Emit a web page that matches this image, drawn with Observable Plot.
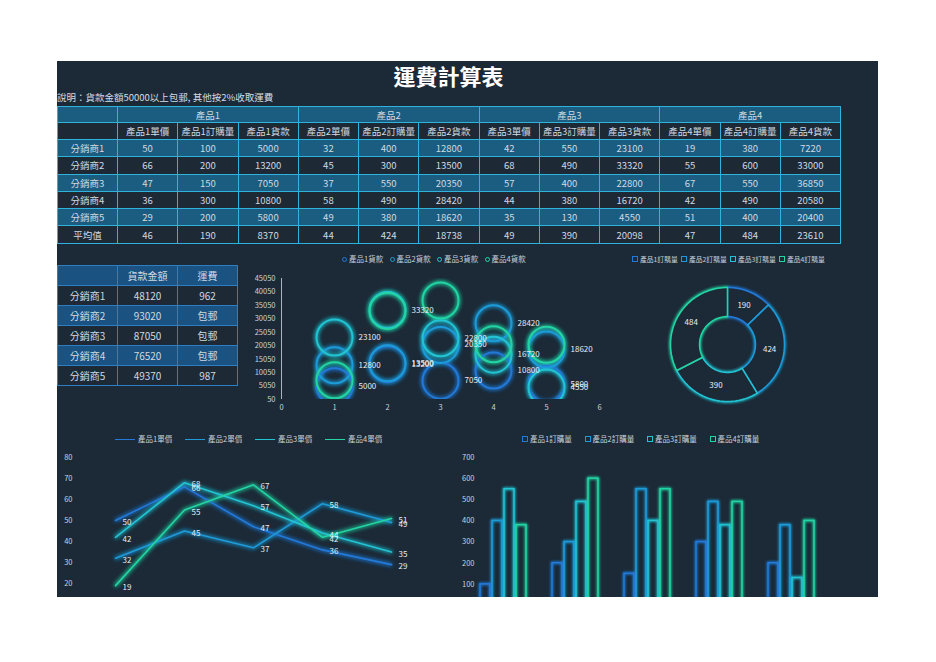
<!DOCTYPE html>
<html><head><meta charset="utf-8">
<script src="https://cdn.jsdelivr.net/npm/d3@7"></script>
<script src="https://cdn.jsdelivr.net/npm/@observablehq/plot@0.6"></script>
<style>
body{margin:0;background:#fff;width:936px;height:662px;position:relative;overflow:hidden;font-family:"Noto Sans CJK TC","Noto Sans",sans-serif;}
#panel{position:absolute;left:57px;top:61px;width:821px;height:536px;background:#1c2a37;}
.abs{position:absolute;overflow:hidden;}
#title{position:absolute;left:57px;width:783px;top:62px;line-height:26px;text-align:center;color:#fff;font-size:22px;font-weight:bold;}
#sub{position:absolute;left:57px;top:91px;line-height:12px;font-size:9.5px;color:#d3dce3;white-space:nowrap;}
table{border-collapse:collapse;table-layout:fixed;position:absolute;color:#d0d9e0;font-size:9.5px;text-align:center;}
td{padding:0;white-space:nowrap;overflow:hidden;line-height:12px;}
#t1{left:57px;top:106px;width:783px;}
#t1 td{border:1px solid #2fb2dc;}
#t2{left:57px;top:265px;width:180px;font-size:10px;}
#t2 td{border:1px solid #2c7fc2;height:19px;}
.b1{background:#1b5d81;} .d1{background:#1d2a36;}
.b2{background:#1a5282;} .d2{background:#1d2a36;}
.legend{position:absolute;display:flex;align-items:center;font-size:7.5px;color:#c9d3dc;white-space:nowrap;line-height:10px;}
.legend.small{font-size:6.8px;}
.item{display:flex;align-items:center;}
.sw{display:inline-block;box-sizing:border-box;margin-right:2px;}
.sw.line{width:20px;height:0;border-top:1.5px solid;margin-right:3px;}
.sw.circle{width:5px;height:5px;border:1px solid;border-radius:50%;}
.sw.square{width:6px;height:6px;border:1px solid;}
</style></head>
<body>
<div id="panel"></div>
<div id="title">運費計算表</div>
<div id="sub">說明：貨款金額50000以上包郵, 其他按2%收取運費</div>
<table id="t1"></table>
<table id="t2"></table>
<div id="bubble" class="abs" style="left:240px;top:265px;width:380px;height:160px;"></div>
<div id="donut" class="abs" style="left:620px;top:265px;width:250px;height:145px;"></div>
<div id="lines" class="abs" style="left:57px;top:445px;width:380px;height:152px;"></div>
<div id="bars" class="abs" style="left:437px;top:445px;width:441px;height:152px;"></div>
<script>
const distributors = ["分銷商1","分銷商2","分銷商3","分銷商4","分銷商5"];
const products = ["產品1","產品2","產品3","產品4"];
const p1Price = [50,66,47,36,29];
const p1Qty = [100,200,150,300,200];
const p1Amount = [5000,13200,7050,10800,5800];
const p2Price = [32,45,37,58,49];
const p2Qty = [400,300,550,490,380];
const p2Amount = [12800,13500,20350,28420,18620];
const p3Price = [42,68,57,44,35];
const p3Qty = [550,490,400,380,130];
const p3Amount = [23100,33320,22800,16720,4550];
const p4Price = [19,55,67,42,51];
const p4Qty = [380,600,550,490,400];
const p4Amount = [7220,33000,36850,20580,20400];
const avgPrice = [46,44,49,47];
const avgQty = [190,424,390,484];
const avgAmount = [8370,18738,20098,23610];
const totalAmount = [48120,93020,87050,76520,49370];
const freight = ["962","包郵","包郵","包郵","987"];
const avgLabel = "平均值";
const summaryHeaders = ["","貨款金額","運費"];
const bubbleTicksX = [0,1,2,3,4,5,6];
const bubbleTicksY = [50,5050,10050,15050,20050,25050,30050,35050,40050,45050];
const lineTicksY = [20,30,40,50,60,70,80];
const barTicksY = [100,200,300,400,500,600,700];

const prices = [p1Price,p2Price,p3Price,p4Price];
const qtys = [p1Qty,p2Qty,p3Qty,p4Qty];
const amounts = [p1Amount,p2Amount,p3Amount,p4Amount];
const seriesColors = ["#2379d8","#1f9bd9","#22c4d4","#24d4a3"];
const panelBg = "#1c2a37";
const fontFam = '"Noto Sans CJK TC","Noto Sans",sans-serif';

// ---------- table 1 ----------
(function(){
  const t = d3.select("#t1");
  const cg = t.append("colgroup");
  cg.append("col").style("width","60px");
  for (let i=0;i<12;i++) cg.append("col").style("width","60.25px");
  const h1 = t.append("tr").attr("class","b1").style("height","16px");
  h1.append("td");
  products.forEach(p=>h1.append("td").attr("colspan",3).text(p));
  const h2 = t.append("tr").attr("class","d1").style("height","17px");
  h2.append("td");
  products.forEach(p=>{["單價","訂購量","貨款"].forEach(s=>h2.append("td").text(p+s));});
  distributors.forEach((d,i)=>{
    const tr = t.append("tr").attr("class", i%2===0?"b1":"d1").style("height","17.3px");
    tr.append("td").text(d);
    products.forEach((p,j)=>{
      tr.append("td").text(prices[j][i]);
      tr.append("td").text(qtys[j][i]);
      tr.append("td").text(amounts[j][i]);
    });
  });
  const av = t.append("tr").attr("class","d1").style("height","17.3px");
  av.append("td").text(avgLabel);
  products.forEach((p,j)=>{
    av.append("td").text(avgPrice[j]);
    av.append("td").text(avgQty[j]);
    av.append("td").text(avgAmount[j]);
  });
})();

// ---------- table 2 ----------
(function(){
  const t = d3.select("#t2");
  const cg = t.append("colgroup");
  for (let i=0;i<3;i++) cg.append("col").style("width","60px");
  const h = t.append("tr").attr("class","b2");
  summaryHeaders.forEach(s=>h.append("td").text(s));
  distributors.forEach((d,i)=>{
    const tr = t.append("tr").attr("class", i%2===0?"d2":"b2");
    tr.append("td").text(d);
    tr.append("td").text(totalAmount[i]);
    tr.append("td").text(freight[i]);
  });
})();

// ---------- helpers ----------
function addGlow(svg, id, std, selector){
  const s = d3.select(svg);
  const defs = s.insert("defs", ":first-child");
  const f = defs.append("filter").attr("id", id)
    .attr("x","-50%").attr("y","-50%").attr("width","200%").attr("height","200%");
  f.append("feGaussianBlur").attr("in","SourceGraphic").attr("stdDeviation",std).attr("result","b");
  const m = f.append("feMerge");
  m.append("feMergeNode").attr("in","b");
  m.append("feMergeNode").attr("in","b");
  m.append("feMergeNode").attr("in","SourceGraphic");
  s.selectAll(selector).attr("filter", `url(#${id})`);
}
function legend(left, top, step, labels, kind, extraClass){
  const div = document.createElement("div");
  div.className = "legend" + (extraClass ? " "+extraClass : "");
  div.style.left = left+"px"; div.style.top = top+"px";
  labels.forEach((lab,i)=>{
    const it = document.createElement("span");
    it.className = "item"; it.style.width = step+"px";
    const sw = document.createElement("span");
    sw.className = "sw "+kind; sw.style.borderColor = seriesColors[i];
    it.appendChild(sw);
    it.appendChild(document.createTextNode(lab));
    div.appendChild(it);
  });
  document.body.appendChild(div);
}
const baseStyle = {background:"transparent", color:"#c9d3dc", fontSize:"7.5px", fontFamily:fontFam, overflow:"visible"};

// ---------- bubble chart ----------
const amountRows = products.flatMap((p,j)=>distributors.map((d,i)=>({product:p, idx:i+1, value:amounts[j][i]})));
legend(342, 254, 47.5, products.map(p=>p+"貨款"), "circle");
const bubble = Plot.plot({
  width:380, height:160, marginTop:13, marginBottom:26, marginLeft:41, marginRight:21,
  style: baseStyle,
  x:{domain:[0,6], ticks:bubbleTicksX, tickSize:0, tickPadding:5, label:null, tickFormat:"d"},
  y:{domain:[50,45050], ticks:bubbleTicksY, tickSize:0, tickPadding:6, label:null, tickFormat:"d"},
  color:{domain:products, range:seriesColors},
  marks:[
    Plot.ruleX([0], {y1:50, y2:45050, stroke:"#a9b4be", strokeWidth:1}),
    Plot.dot(amountRows, {x:"idx", y:"value", r:18, stroke:"product", strokeWidth:2, fill:"none", clip:true}),
    Plot.text(amountRows.filter(d=>d.product!=="產品4"), {x:"idx", y:"value", text:d=>String(d.value), dx:24, textAnchor:"start", fill:"#e6edf2", fontSize:8})
  ]
});
document.getElementById("bubble").appendChild(bubble);
addGlow(bubble, "gb", 2.2, 'g[aria-label="dot"]');

// ---------- donut ----------
legend(632, 254, 49, products.map(p=>p+"訂購量"), "square", "small");
const pieArcs = d3.pie().sort(null).value(d=>d)(avgQty);
const innerR = 0.49;
const ringPts = pieArcs.flatMap((a,k)=>{
  const pts = [];
  const n = 48;
  for (let s=0;s<=n;s++){ const t=a.startAngle+(a.endAngle-a.startAngle)*s/n; pts.push({product:products[k], x:Math.sin(t), y:Math.cos(t)}); }
  for (let s=n;s>=0;s--){ const t=a.startAngle+(a.endAngle-a.startAngle)*s/n; pts.push({product:products[k], x:innerR*Math.sin(t), y:innerR*Math.cos(t)}); }
  pts.push({...pts[0]});
  return pts;
});
const midR = (1+innerR)/2;
const donut = Plot.plot({
  width:250, height:145, style:baseStyle,
  x:{domain:[-1,1], range:[50,164], axis:null},
  y:{domain:[-1,1], range:[136,22], axis:null},
  color:{domain:products, range:seriesColors},
  marks:[
    Plot.line(ringPts, {x:"x", y:"y", z:"product", stroke:"product", fill:panelBg, strokeWidth:1.6, curve:"linear"}),
    Plot.text(pieArcs, {x:a=>midR*Math.sin((a.startAngle+a.endAngle)/2), y:a=>midR*Math.cos((a.startAngle+a.endAngle)/2), text:a=>String(a.data), fill:"#e6edf2", fontSize:8})
  ]
});
document.getElementById("donut").appendChild(donut);
addGlow(donut, "gd", 1.8, 'g[aria-label="line"]');

// ---------- line chart ----------
legend(115, 434, 70, products.map(p=>p+"單價"), "line");
const priceRows = products.flatMap((p,j)=>distributors.map((d,i)=>({product:p, dist:d, value:prices[j][i]})));
const lines = Plot.plot({
  width:380, height:152, marginTop:12, marginBottom:14, marginLeft:22, marginRight:10,
  style:baseStyle,
  x:{type:"point", domain:distributors, padding:0.5, axis:null},
  y:{domain:[20,80], ticks:lineTicksY, tickSize:0, tickPadding:7, label:null},
  color:{domain:products, range:seriesColors},
  marks:[
    Plot.line(priceRows, {x:"dist", y:"value", z:"product", stroke:"product", strokeWidth:1.6}),
    Plot.text(priceRows, {x:"dist", y:"value", text:d=>String(d.value), dx:7, dy:2, textAnchor:"start", fill:"#e6edf2", fontSize:8})
  ]
});
document.getElementById("lines").appendChild(lines);
addGlow(lines, "gl", 2, 'g[aria-label="line"]');

// ---------- bar chart ----------
legend(522, 434, 62.5, products.map(p=>p+"訂購量"), "square");
const qtyRows = products.flatMap((p,j)=>distributors.map((d,i)=>({product:p, dist:d, value:qtys[j][i]})));
const bars = Plot.plot({
  width:441, height:160, marginTop:12, marginBottom:0, marginLeft:30, marginRight:51,
  style:baseStyle,
  fx:{domain:distributors, paddingInner:0.36, paddingOuter:0.18, axis:null, label:null},
  x:{domain:products, paddingInner:0.2, paddingOuter:0, axis:null, label:null},
  y:{domain:[0,700], ticks:barTicksY, tickSize:0, tickPadding:6, label:null},
  color:{domain:products, range:seriesColors},
  marks:[
    Plot.barY(qtyRows, {fx:"dist", x:"product", y:"value", stroke:"product", fill:"none", strokeWidth:1.5})
  ]
});
document.getElementById("bars").appendChild(bars);
addGlow(bars, "gr", 1.6, 'g[aria-label="bar"]');
</script>
</body></html>
